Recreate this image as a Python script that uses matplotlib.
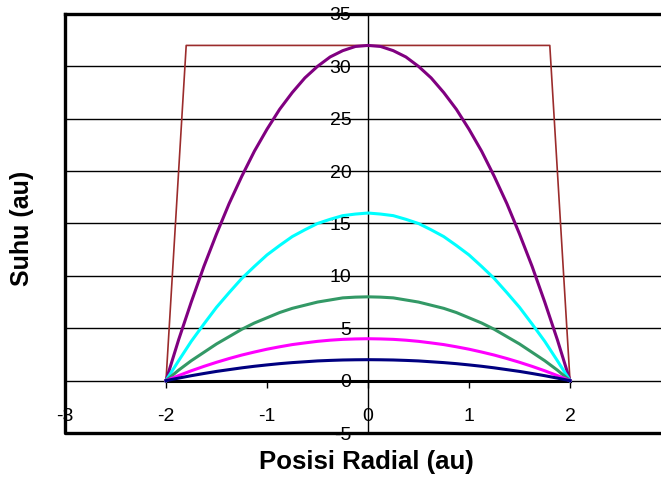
import numpy as np
import matplotlib.pyplot as plt

plt.rcParams['font.family'] = ['Liberation Sans', 'DejaVu Sans']

# radial position (au)
x = [-2, -1.875, -1.75, -1.625, -1.5, -1.375, -1.25, -1.125, -1,
     -0.875, -0.75, -0.625, -0.5, -0.375, -0.25, -0.125, 0,
     0.125, 0.25, 0.375, 0.5, 0.625, 0.75, 0.875, 1,
     1.125, 1.25, 1.375, 1.5, 1.625, 1.75, 1.875, 2]

# temperature profiles (au)
t32 = [0, 3.9, 7.5, 10.9, 14, 16.9, 19.5, 21.9, 24, 25.9, 27.5, 28.9, 30, 30.9, 31.5, 31.9, 32,
       31.9, 31.5, 30.9, 30, 28.9, 27.5, 25.9, 24, 21.9, 19.5, 16.9, 14, 10.9, 7.5, 3.9, 0]
t16 = [0, 1.9, 3.75, 5.4, 7, 8.4, 9.75, 10.9, 12, 12.9, 13.75, 14.4, 15, 15.4, 15.75, 15.9, 16,
       15.9, 15.75, 15.4, 15, 14.4, 13.75, 12.9, 12, 10.9, 9.75, 8.4, 7, 5.4, 3.75, 1.9, 0]
t8 = [0, 1.0, 1.9, 2.7, 3.5, 4.2, 4.9, 5.5, 6, 6.5, 6.9, 7.2, 7.5, 7.7, 7.9, 7.97, 8,
      7.97, 7.9, 7.7, 7.5, 7.2, 6.9, 6.5, 6, 5.5, 4.9, 4.2, 3.5, 2.7, 1.9, 1.0, 0]
t4 = [0, 0.48, 0.94, 1.36, 1.75, 2.11, 2.44, 2.73, 3, 3.23, 3.44, 3.6, 3.75, 3.86, 3.94, 3.98, 4,
      3.98, 3.94, 3.86, 3.75, 3.6, 3.44, 3.23, 3, 2.73, 2.44, 2.11, 1.75, 1.36, 0.94, 0.48, 0]
t2 = [0, 0.24, 0.47, 0.68, 0.88, 1.05, 1.22, 1.37, 1.5, 1.62, 1.72, 1.8, 1.88, 1.93, 1.97, 1.99, 2,
      1.99, 1.97, 1.93, 1.88, 1.8, 1.72, 1.62, 1.5, 1.37, 1.22, 1.05, 0.88, 0.68, 0.47, 0.24, 0]
t0 = [0] * len(x)

# flat-top (step) profile
x_step = [-2, -1.8, 1.8, 2]
t_step = [0, 32, 32, 0]

xticks = [-3, -2, -1, 0, 1, 2]
yticks = [-5, 0, 5, 10, 15, 20, 25, 30, 35]

fig = plt.figure(figsize=(6.61, 4.84), dpi=100)
ax = fig.add_axes([65 / 661, 51 / 484, 606 / 661, 419 / 484])

ax.set_xlim(-3, 3)
ax.set_ylim(-5, 35)

for yy in yticks[2:-1]:
    ax.axhline(yy, color='black', lw=1.0, zorder=1)

ax.plot(x, t0, color='black', lw=2.2, zorder=3)
ax.plot(x_step, t_step, color='#9B2C2C', lw=1.2, zorder=3)
ax.plot(x, t32, color='#800080', lw=2.2, zorder=3)
ax.plot(x, t16, color='#00FFFF', lw=2.2, zorder=3)
ax.plot(x, t8, color='#339966', lw=2.2, zorder=3)
ax.plot(x, t4, color='#FF00FF', lw=2.2, zorder=3)
ax.plot(x, t2, color='#000080', lw=2.2, zorder=3)

# axes crossing at zero
ax.spines['left'].set_position(('data', 0))
ax.spines['bottom'].set_position(('data', 0))
ax.spines['left'].set_linewidth(1.0)
ax.spines['bottom'].set_linewidth(1.0)
ax.spines['right'].set_visible(False)
ax.spines['top'].set_linewidth(2.4)

# outer frame (left and bottom)
ax.plot([0, 0, 1], [1, 0, 0], transform=ax.transAxes, color='black',
        lw=2.4, clip_on=False, zorder=5)

ax.set_xticks(xticks)
ax.set_xticklabels([str(v) for v in xticks])
ax.set_yticks(yticks)
ax.set_yticklabels([str(v) for v in yticks])
ax.tick_params(axis='x', direction='out', length=5, width=1, pad=15,
               labelsize=14)
ax.tick_params(axis='y', length=0, pad=12, labelsize=14)

fig.text(0.555, 0.045, 'Posisi Radial (au)', ha='center', va='center',
         fontsize=18.5, fontweight='bold')
fig.text(0.033, 0.529, 'Suhu (au)', ha='center', va='center',
         rotation=90, fontsize=18, fontweight='bold')

fig.savefig('out.png', dpi=100)
